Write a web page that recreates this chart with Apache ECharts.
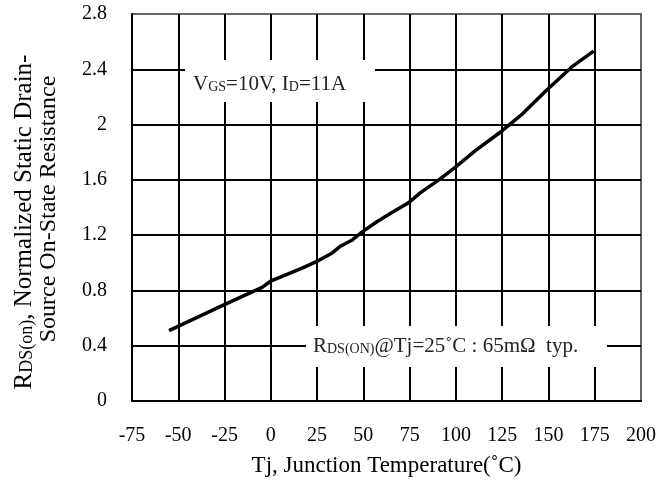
<!DOCTYPE html>
<html>
<head>
<meta charset="utf-8">
<script src="https://cdn.jsdelivr.net/npm/echarts@6/dist/echarts.min.js"></script>
<style>
html,body{margin:0;padding:0;background:#fff;}
#c{width:672px;height:483px;}
</style>
</head>
<body>
<div id="c"></div>
<script>
// Data
const tempC = [-55, -25.4, -4.7, 0.2, 6.1, 16.9, 25.8, 32.7, 37.6, 43.5, 49.4, 57.3, 65.2, 74.0, 80.9, 90.8, 99.6, 110.5, 123.2, 136.0, 148.8, 162.6, 174.4];
const rdsNorm = [0.509, 0.696, 0.822, 0.870, 0.902, 0.962, 1.016, 1.067, 1.120, 1.161, 1.224, 1.297, 1.362, 1.430, 1.508, 1.600, 1.690, 1.811, 1.937, 2.078, 2.247, 2.417, 2.531];
const xTicks = {min: -75, max: 200, step: 25};
const yTicks = {min: 0, max: 2.8, step: 0.4};

const FONT = '"Liberation Serif", "Times New Roman", serif';
const chart = echarts.init(document.getElementById('c'), null, {renderer: 'canvas'});

const seriesData = tempC.map((t, i) => [t, rdsNorm[i]]);

chart.setOption({
  animation: false,
  backgroundColor: '#fff',
  grid: {left: 132, right: 31, top: 14, bottom: 82, show: true, borderColor: '#666', borderWidth: 2, backgroundColor: 'transparent'},
  xAxis: {
    type: 'value', min: xTicks.min, max: xTicks.max, interval: xTicks.step,
    axisLine: {show: true, onZero: false, lineStyle: {color: '#000', width: 2}},
    axisTick: {show: false},
    splitLine: {show: true, showMinLine: false, showMaxLine: false, lineStyle: {color: '#000', width: 2}},
    axisLabel: {color: '#000', fontFamily: FONT, fontSize: 20, margin: 25},
    name: 'Tj, Junction Temperature(˚C)', nameLocation: 'middle', nameGap: 53,
    nameTextStyle: {color: '#000', fontFamily: FONT, fontSize: 23}
  },
  yAxis: {
    type: 'value', min: yTicks.min, max: yTicks.max, interval: yTicks.step,
    axisLine: {show: true, onZero: false, lineStyle: {color: '#000', width: 2}},
    axisTick: {show: false},
    splitLine: {show: true, showMinLine: false, showMaxLine: false, lineStyle: {color: '#000', width: 2}},
    axisLabel: {color: '#000', fontFamily: FONT, fontSize: 20, margin: 25}
  },
  series: [{
    type: 'line', data: seriesData, showSymbol: false, symbol: 'none', smooth: false,
    lineStyle: {color: '#000', width: 3.5}, z: 5
  }],
  graphic: [
    {type: 'text', x: 24, y: 222, rotation: Math.PI / 2, z: 10,
     style: {text: '{b|R}{s|DS(on)}{b|, Normalized Static Drain-}', align: 'center', verticalAlign: 'middle', fill: '#000',
       rich: {b: {fontFamily: FONT, fontSize: 25, verticalAlign: 'bottom', lineHeight: 25}, s: {fontFamily: FONT, fontSize: 18, verticalAlign: 'bottom', lineHeight: 21}}}},
    {type: 'text', x: 49, y: 209, rotation: Math.PI / 2, z: 10,
     style: {text: 'Source On-State Resistance', align: 'center', verticalAlign: 'middle', fill: '#000', font: '24px ' + FONT}},
    {type: 'rect', shape: {x: 185, y: 60, width: 190, height: 42}, style: {fill: '#fff'}, z: 8},
    {type: 'text', x: 193, y: 84, z: 10,
     style: {text: '{b|V}{s|GS}{b|=10V, I}{s|D}{b|=11A}', align: 'left', verticalAlign: 'middle', fill: '#222',
       rich: {b: {fontFamily: FONT, fontSize: 21, verticalAlign: 'bottom', lineHeight: 21}, s: {fontFamily: FONT, fontSize: 14, verticalAlign: 'bottom', lineHeight: 17}}}},
    {type: 'rect', shape: {x: 306, y: 326, width: 301, height: 41}, style: {fill: '#fff'}, z: 8},
    {type: 'text', x: 313, y: 346, z: 10,
     style: {text: '{b|R}{s|DS(ON)}{b|@Tj=25˚C : 65mΩ  typ.}', align: 'left', verticalAlign: 'middle', fill: '#222',
       rich: {b: {fontFamily: FONT, fontSize: 21, verticalAlign: 'bottom', lineHeight: 21}, s: {fontFamily: FONT, fontSize: 14, verticalAlign: 'bottom', lineHeight: 17}}}}
  ]
});
</script>
</body>
</html>
